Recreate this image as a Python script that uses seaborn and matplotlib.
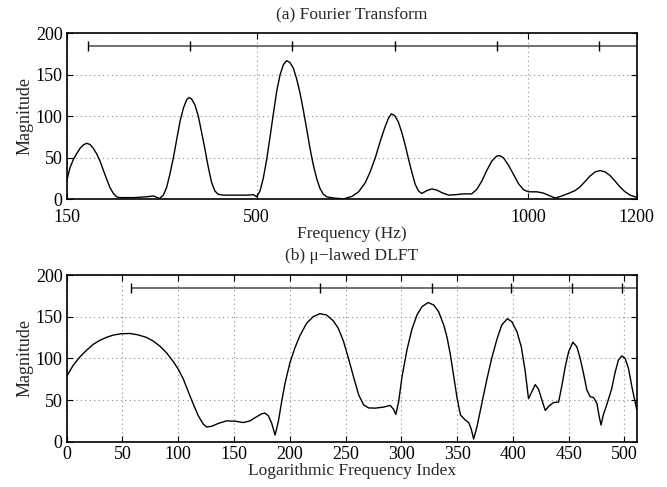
import matplotlib
matplotlib.use("Agg")
import matplotlib.pyplot as plt
import seaborn as sns

# (a) Fourier transform magnitude
ft_hz = [150, 156, 162.3, 168.4, 174.6, 180.7, 186.8, 193, 199, 205, 211.4,
         217.5, 223.7, 229.8, 236, 242, 248, 273, 297, 310, 321, 328, 334,
         340, 346.5, 352.6, 358.8, 365, 371, 375.3, 380, 386, 392.5, 398.7,
         404.8, 411, 417, 423, 429, 438.6, 457, 482, 494, 500, 506, 512,
         518.4, 524.5, 530.7, 536.8, 543, 549, 555, 561, 567.5, 573.6, 579.8,
         586, 592, 598, 604, 610.5, 616.6, 622.8, 629, 641, 660, 675.5, 687.7,
         700, 709, 718.4, 727.6, 736.8, 743, 748, 754, 761, 767.5, 773.6,
         779.8, 786, 792, 798, 804, 813.5, 822.7, 832, 841, 853.4, 865.6, 881,
         896, 905.5, 914.7, 924, 933, 942, 947, 954.6, 963.8, 973, 982, 991.4,
         1000.6, 1016, 1028, 1040.5, 1050, 1062, 1074, 1086.5, 1095.7, 1105,
         1114, 1123.6, 1132.5, 1141.8, 1151, 1160, 1169, 1178.6, 1187.7, 1200]
ft_mag = [22, 38, 48, 55, 61.5, 65.5, 67.5, 66, 61.5, 55, 46,
          35, 24, 14, 7, 3, 2, 2, 3, 4, 1, 5, 14,
          30, 50, 72, 94, 110, 120, 122.6, 121, 114, 100, 80,
          60, 38, 20, 10, 6, 5, 5, 5, 5.5, 3, 10, 25,
          48, 75, 103, 130, 150, 162, 167, 165, 158, 145, 128,
          107, 85, 62, 42, 25, 13, 6, 3, 1.5, 0.5, 3.5, 9,
          20, 33, 50, 70, 88, 98, 103, 101, 93, 80, 65,
          48, 32, 18, 10, 7, 10.5, 12.5, 11, 8, 5, 5.5, 6.5,
          6.5, 12, 22, 35, 46, 52, 52.7, 50, 41, 30, 19, 11.5,
          9, 9, 7.5, 4, 1.5, 4, 7, 10.5, 15, 21.5,
          28, 33, 34.6, 33, 28.5, 22, 15, 9, 5, 2.4]
ft_harmonics = [188.5, 377, 565.5, 754, 942.5, 1131]

# (b) mu-lawed DLFT magnitude
dl_idx = [0, 6, 12, 18, 24, 30, 36, 42, 49.3, 56.8, 64, 71.7, 77.7, 83.7,
          89.6, 95.6, 100, 104.6, 109, 113.5, 118, 122.5, 125.5, 130, 136,
          143.4, 151, 158.4, 164.3, 170.3, 174.8, 177.8, 180.8, 183.8, 186.8,
          189.7, 192.7, 195.7, 200.2, 204.7, 209, 215, 221, 227, 233, 239,
          243.5, 248, 252.6, 257.3, 261.8, 266.3, 270.7, 276.7, 284, 290, 293,
          295, 297.6, 300.6, 305, 309.5, 314, 318.5, 324, 329, 333.4, 338, 341,
          344, 347, 350, 353, 357.3, 360.3, 362.7, 364.8, 367.8, 372, 376.7,
          381, 385.7, 390, 395, 399, 403.6, 407.5, 411, 414, 417, 420, 423,
          426, 429, 432.5, 436.4, 441, 444, 446.9, 450, 453.7, 457.3, 460.3,
          463.3, 466.3, 469.3, 472.3, 475.3, 477.4, 479, 481, 484.3, 488.6,
          491.6, 494.6, 497.6, 500.6, 503.6, 507, 511]
dl_mag = [78.6, 92, 102, 110, 117, 121.8, 125.4, 128, 129.6, 129.8, 128.2, 125,
          120.6, 114.5, 106.5, 96, 87, 75, 60, 45, 31, 21, 17.7, 18.5, 22,
          25, 24.6, 23, 25, 30, 33.5, 34.3, 31, 22, 8, 24, 48, 70, 95, 113, 127,
          142, 150, 153.6, 152, 145, 136, 121, 100, 77, 56, 44, 40.5, 40.3,
          41.5, 43.5, 39, 32.7, 48, 78, 110, 135, 152, 162, 167, 164, 156, 140,
          125, 104, 78, 52, 32, 26, 23, 15, 3.2, 18, 45, 75, 100, 123, 140,
          147.6, 144, 132, 114, 85, 51.6, 60, 68.5, 63, 50, 37.5, 43, 47, 47.6,
          68, 90, 108, 119.4, 114, 100, 82, 62, 54, 53, 46, 30, 20, 32, 45,
          63.7, 83, 98, 103, 100, 88, 63.7, 38.7]
dl_harmonics = [57.5, 227.5, 327.8, 398.5, 453.3, 497.9]

sns.set_style("ticks")
plt.rcParams['font.family'] = ['Liberation Serif', 'DejaVu Serif']

fig = plt.figure(figsize=(6.67, 4.87), dpi=100)
ax1 = fig.add_axes([0.1, 0.5908, 0.8546, 0.3408])
ax2 = fig.add_axes([0.1, 0.0930, 0.8546, 0.3423])


def style_axes(ax, xlim, xticks, xlabel, title, xpad, tpad):
    ax.set_xlim(*xlim)
    ax.set_ylim(0, 200)
    ax.set_xticks(xticks)
    ax.set_yticks([0, 50, 100, 150, 200])
    ax.tick_params(direction='in', top=True, right=True, length=4,
                   width=0.8, labelsize=13, colors='black')
    ax.tick_params(axis='x', pad=xpad)
    ax.tick_params(axis='y', pad=3)
    ax.grid(True, linestyle=(0, (1, 3)), color='0.55', linewidth=0.8)
    for sp in ax.spines.values():
        sp.set_linewidth(1.2)
        sp.set_color('black')
        sp.set_visible(True)
    ax.set_xlabel(xlabel, fontsize=12.5, labelpad=0)
    ax.set_ylabel('Magnitude', fontsize=13, labelpad=1.5)
    ax.set_title(title, fontsize=12.5, pad=tpad)


def bracket(ax, positions, right):
    ax.plot([positions[0], right], [185, 185], color='0.4', linewidth=1.3,
            solid_capstyle='butt')
    ax.plot(positions, [185] * len(positions), linestyle='none', marker='|',
            markersize=7, markeredgewidth=1.0, color='black')


sns.lineplot(x=ft_hz, y=ft_mag, ax=ax1, color='black', linewidth=1.0,
             estimator=None, sort=False)
bracket(ax1, ft_harmonics, 1200)
style_axes(ax1, (150, 1200), [150, 500, 1000, 1200], 'Frequency (Hz)',
           '(a) Fourier Transform', 7, 10)

sns.lineplot(x=dl_idx, y=dl_mag, ax=ax2, color='black', linewidth=1.0,
             estimator=None, sort=False)
bracket(ax2, dl_harmonics, 511)
style_axes(ax2, (0, 511), list(range(0, 501, 50)),
           'Logarithmic Frequency Index', '(b) \u03bc\u2212lawed DLFT', 3, 11)

fig.savefig('out.png', dpi=100)
